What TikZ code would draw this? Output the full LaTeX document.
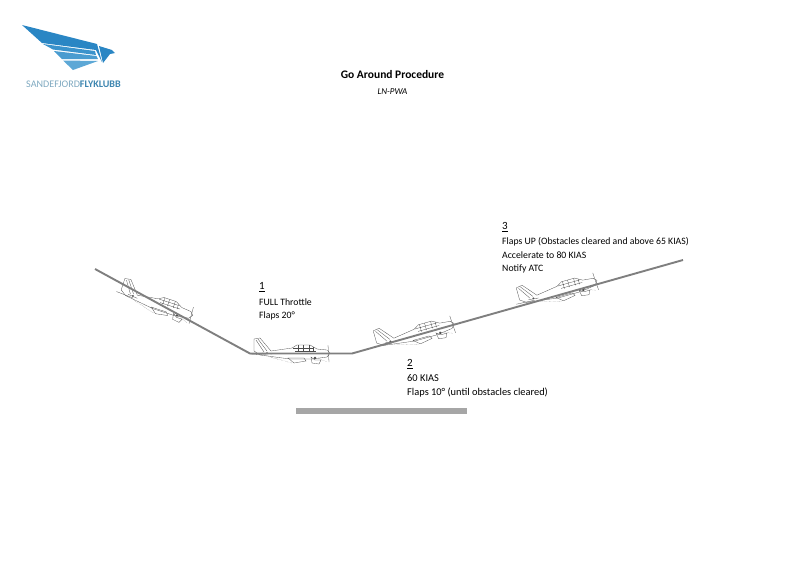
\documentclass[tikz,border=0pt]{standalone}
\usepackage{fontspec}
\setmainfont{Carlito}
\definecolor{pathgray}{HTML}{7F7F7F}
\definecolor{stripgray}{HTML}{A6A6A6}
\definecolor{logoa}{HTML}{2A86C4}
\definecolor{logob}{HTML}{3B93CC}
\definecolor{logoc}{HTML}{4A9CD0}
\definecolor{logod}{HTML}{5DA8D6}
\definecolor{logotext}{HTML}{7FA9C0}
\definecolor{logobold}{HTML}{3E86B0}
\newcommand{\stepnum}[1]{\underline{\fontsize{11}{13.6}\selectfont #1}\\[1.8pt]}
\tikzset{
  note/.style = {align=left, inner sep=0pt, anchor=north west, font=\fontsize{9.75}{13.6}\selectfont},
  flightpath/.style = {draw=pathgray, line width=1.9pt},
  planeline/.style = {draw=black!70, line width=0.3pt},
  plane/.pic = {
    \draw[planeline] (-46,-3) -- (-46,-15) -- (-40,-16) -- (-29,-3) -- (-8,-6) -- (-3,-9) -- (10,-9) -- (17,-5) -- (27,-4) -- (30,-1) -- (27,3) -- (12,5) -- (-10,5) -- (-40,1) -- cycle;
    \draw[planeline] (-44,-14) -- (-36,-2) (-42,-15) -- (-33,-3);
    \draw[planeline] (-7,-6) -- (14,-6) (-5,-3) -- (16,-3) (-2,-9) -- (-2,-2) (3,-9) -- (3,-2) (9,-9) -- (9,-2) (13,-7) -- (13,-2);
    \draw[planeline] (-38,-1) -- (-28,0) (-50,0) -- (-32,1);
    \draw[planeline] (-12,4) -- (4,4) -- (6,7) -- (-6,9) -- cycle;
    \draw[planeline] (11,3) -- (15,6) -- (21,6) -- (19,10) -- (12,9) -- cycle;
    \fill[black!70] (15,4) circle (1.3pt) (-33,-1) circle (1pt);
    \draw[planeline] (28,-9) -- (29,8);
    \draw[planeline, densely dotted] (-30,3) -- (-8,9) (18,4) -- (27,8);
  }
}
\begin{document}
\begin{tikzpicture}[x=1pt, y=-1pt]
\useasboundingbox (0,0) rectangle (800,566);

\fill[logoa] (22,25) -- (97,44) -- (102,62) -- (96,50) -- (42,43) -- cycle;
\fill[logoa] (99,46) -- (112,50) -- (115,53) -- (110,54) -- (103,63) -- cycle;
\fill[logob] (43,44) -- (95,51) -- (96,55) -- (53,49.5) -- cycle;
\fill[logoc] (54,51) -- (96.5,56) -- (98,59) -- (62,59) -- cycle;
\fill[logod] (63,60.5) -- (98,61) -- (73,70) -- cycle;

\node[inner sep=0pt, anchor=west, font=\fontsize{10.1}{12}\selectfont, text=logotext] (brand) at (26,84) {SANDEFJORD\textcolor{logobold}{\textbf{FLYKLUBB}}};

\node[inner sep=0pt, font=\fontsize{11.5}{14}\selectfont\bfseries] (title) at (392.5,75) {Go Around Procedure};
\node[inner sep=0pt, font=\fontsize{9}{11}\selectfont\itshape] (sub) at (392.5,92) {LN-PWA};

\coordinate (a) at (95,269);
\coordinate (b) at (250,353.5);
\coordinate (c) at (352,353.5);
\coordinate (d) at (683,260);

\pic[rotate=-18] at (164,307) {plane};
\pic at (300,354) {plane};
\pic[rotate=15.7, scale=1.05] at (424,333) {plane};
\pic[rotate=15.7, scale=1.05] at (567,290) {plane};

\draw[flightpath] (a) -- (b) -- (c) -- (d);

\node[inner sep=0pt, minimum width=171pt, minimum height=6pt, fill=stripgray] (strip) at (381.5,411) {};

\node[note] (step1) at (259,282.5) {\stepnum{1}FULL Throttle\\Flaps 20°};
\node[note, font=\fontsize{10.4}{13.6}\selectfont] (step2) at (407,359) {\stepnum{2}60 KIAS\\Flaps 10° (until obstacles cleared)};
\node[note] (step3) at (502,222) {\stepnum{3}Flaps UP (Obstacles cleared and above 65 KIAS)\\Accelerate to 80 KIAS\\Notify ATC};
\end{tikzpicture}
\end{document}
